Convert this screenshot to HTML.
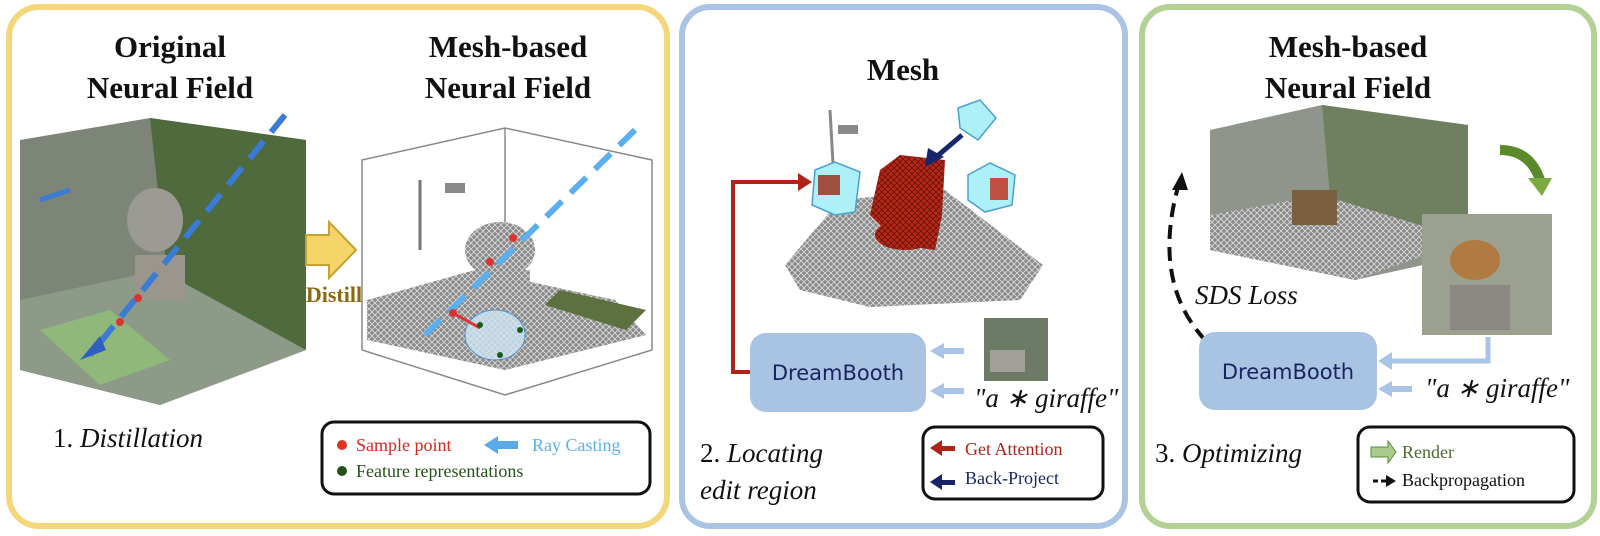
<!DOCTYPE html>
<html><head><meta charset="utf-8"><style>
html,body{margin:0;padding:0;background:#fff;}
svg{display:block}
.t{font-family:"Liberation Serif",serif;font-weight:bold;font-size:31px;fill:#111;text-anchor:middle}
.i{font-family:"Liberation Serif",serif;font-style:italic;font-size:27px;fill:#111}
.s{font-family:"Liberation Serif",serif;font-size:18px}
.d{font-family:"DejaVu Sans",sans-serif;font-size:21px;fill:#1a2560;text-anchor:middle}
</style></head><body>
<svg width="1600" height="536" viewBox="0 0 1600 536" xmlns="http://www.w3.org/2000/svg">
<defs>
<pattern id="mesh" width="6" height="6" patternUnits="userSpaceOnUse"><rect width="6" height="6" fill="#8a8a8a"/><path d="M0 0L6 6M6 0L0 6" stroke="#ddd" stroke-width="0.8"/></pattern>
<pattern id="rmesh" width="6" height="6" patternUnits="userSpaceOnUse"><rect width="6" height="6" fill="#b52818"/><path d="M0 0L6 6M6 0L0 6" stroke="#6a1208" stroke-width="0.8"/></pattern>
</defs>
<!-- panels -->
<rect x="9" y="7" width="658" height="519" rx="30" fill="none" stroke="#f5d77b" stroke-width="6"/>
<rect x="682" y="7" width="443" height="519" rx="28" fill="none" stroke="#a9c4e4" stroke-width="6"/>
<rect x="1142" y="7" width="452" height="519" rx="28" fill="none" stroke="#b3d195" stroke-width="6"/>

<!-- panel 1 -->
<text class="t" x="170" y="57">Original</text>
<text class="t" x="170" y="98">Neural Field</text>
<text class="t" x="508" y="57">Mesh-based</text>
<text class="t" x="508" y="98">Neural Field</text>
<polygon points="20,140 150,118 306,140 306,350 160,405 20,370" fill="#7d8578"/>
<polygon points="150,118 306,140 306,350 170,300" fill="#4f6a3c"/>
<polygon points="20,300 160,270 306,350 160,405 20,370" fill="#8d9a88"/>
<polygon points="40,330 110,310 170,360 100,385" fill="#8fb87a"/>
<rect x="135" y="255" width="50" height="45" fill="#9a968e"/>
<ellipse cx="155" cy="220" rx="28" ry="32" fill="#9b9a94"/>
<line x1="285" y1="115" x2="90" y2="355" stroke="#3a7bd5" stroke-width="6" stroke-dasharray="22,12"/>
<polygon points="80,360 100,336 106,350" fill="#2f5fc0"/>
<line x1="40" y1="200" x2="70" y2="190" stroke="#3a7bd5" stroke-width="5"/>
<circle cx="120" cy="322" r="4" fill="#d33"/><circle cx="138" cy="298" r="4" fill="#d33"/>
<polygon points="306,235 329,235 329,222 356,250 329,278 329,265 306,265" fill="#f5d567" stroke="#c8a230" stroke-width="2"/>
<text x="334" y="302" font-family="Liberation Serif,serif" font-weight="bold" font-size="22" fill="#8a6a10" text-anchor="middle">Distill</text>
<g stroke="#888" stroke-width="1.5" fill="none">
<polygon points="362,160 505,128 652,160 652,350 505,395 362,350"/>
<line x1="505" y1="128" x2="505" y2="340"/>
</g>
<polygon points="367,300 475,270 615,300 646,335 505,370 367,340" fill="url(#mesh)"/>
<polygon points="560,290 646,310 626,330 545,305" fill="#5c7040"/>
<ellipse cx="500" cy="250" rx="35" ry="28" fill="url(#mesh)"/>
<rect x="475" y="270" width="55" height="40" fill="url(#mesh)"/>
<line x1="420" y1="180" x2="420" y2="250" stroke="#777" stroke-width="3"/>
<rect x="445" y="183" width="20" height="10" fill="#888"/>
<ellipse cx="495" cy="335" rx="30" ry="25" fill="#cfe6f5" opacity="0.8" stroke="#3a8ad5"/>
<line x1="635" y1="130" x2="425" y2="335" stroke="#5ab0ee" stroke-width="6" stroke-dasharray="22,12"/>
<line x1="453" y1="313" x2="480" y2="328" stroke="#d33" stroke-width="3"/>
<circle cx="513" cy="238" r="4" fill="#d33"/><circle cx="490" cy="262" r="4" fill="#d33"/><circle cx="453" cy="313" r="4" fill="#d33"/>
<circle cx="520" cy="330" r="3" fill="#1c5a1c"/><circle cx="500" cy="355" r="3" fill="#1c5a1c"/><circle cx="480" cy="325" r="3" fill="#1c5a1c"/>
<text class="i" x="53" y="447"><tspan font-style="normal">1.</tspan> Distillation</text>
<rect x="322" y="422" width="328" height="72" rx="12" fill="#fff" stroke="#111" stroke-width="3"/>
<circle cx="342" cy="445" r="5" fill="#e0321e"/>
<text class="s" x="356" y="451" fill="#d8261a">Sample point</text>
<polygon points="484,445 498,436 498,441 518,441 518,449 498,449 498,454" fill="#5aaaea"/>
<text class="s" x="532" y="451" fill="#5ab0ee">Ray Casting</text>
<circle cx="342" cy="471" r="5" fill="#245218"/>
<text class="s" x="356" y="477" fill="#245218">Feature representations</text>

<!-- panel 2 -->
<text class="t" x="903" y="80">Mesh</text>
<polygon points="785,265 840,200 945,190 1043,265 1020,300 870,307 800,290" fill="url(#mesh)"/>
<polygon points="880,170 900,155 945,160 942,215 935,250 900,245 885,230 870,215" fill="url(#rmesh)"/>
<ellipse cx="905" cy="235" rx="30" ry="15" fill="url(#rmesh)"/>
<line x1="830" y1="110" x2="835" y2="200" stroke="#888" stroke-width="3"/>
<rect x="838" y="125" width="20" height="9" fill="#888"/>
<polygon points="815,170 835,162 860,172 855,212 835,215 812,205" fill="#aef0f8" stroke="#4aa0d0" stroke-width="1.5"/>
<rect x="818" y="175" width="22" height="20" fill="#a05040"/>
<polygon points="968,175 990,163 1015,175 1012,205 985,212 968,200" fill="#aef0f8" stroke="#4aa0d0" stroke-width="1.5"/>
<rect x="990" y="178" width="18" height="22" fill="#c05040"/>
<polygon points="958,108 980,100 996,118 978,140 960,128" fill="#aef0f8" stroke="#4aa0d0" stroke-width="1.5"/>
<line x1="962" y1="135" x2="935" y2="158" stroke="#17266a" stroke-width="5"/>
<polygon points="925,167 928,148 944,157" fill="#17266a"/>
<polyline points="750,372 733,372 733,182 800,182" fill="none" stroke="#b02418" stroke-width="4"/>
<polygon points="812,182 798,173 798,191" fill="#b02418"/>
<rect x="750" y="333" width="176" height="79" rx="16" fill="#a9c3e3"/>
<text class="d" x="838" y="380">DreamBooth</text>
<rect x="984" y="318" width="64" height="63" fill="#6d7a66"/>
<rect x="990" y="350" width="35" height="22" fill="#a0a098"/>
<g fill="#a9c4e4"><rect x="942" y="348" width="22" height="6"/><polygon points="930,351 944,343 944,359"/><rect x="942" y="388" width="22" height="6"/><polygon points="930,391 944,383 944,399"/></g>
<text class="i" x="974" y="407" font-size="22">"a ∗ giraffe"</text>
<text class="i" x="700" y="462"><tspan font-style="normal">2.</tspan> Locating</text>
<text class="i" x="700" y="499">edit region</text>
<rect x="923" y="427" width="180" height="72" rx="12" fill="#fff" stroke="#111" stroke-width="3"/>
<rect x="935" y="446" width="20" height="5" fill="#b02418"/><polygon points="930,448 942,440 942,456" fill="#b02418"/>
<text class="s" x="965" y="455" fill="#b02418">Get Attention</text>
<rect x="935" y="480" width="20" height="5" fill="#17266a"/><polygon points="930,482 942,474 942,490" fill="#17266a"/>
<text class="s" x="965" y="484" fill="#17266a">Back-Project</text>

<!-- panel 3 -->
<text class="t" x="1348" y="57">Mesh-based</text>
<text class="t" x="1348" y="98">Neural Field</text>
<polygon points="1210,130 1322,105 1468,125 1468,255 1355,280 1210,250" fill="#8f958a"/>
<polygon points="1322,105 1468,125 1468,255 1332,220" fill="#6f8060"/>
<polygon points="1210,215 1322,195 1468,240 1355,280 1210,250" fill="url(#mesh)"/>
<rect x="1292" y="190" width="45" height="35" fill="#7a6040"/>
<path d="M1500 150 Q1530 150 1540 180" fill="none" stroke="#5a8a2a" stroke-width="10"/>
<polygon points="1528,178 1552,178 1542,196" fill="#7aaa40"/>
<rect x="1422" y="214" width="130" height="121" fill="#9ba08f"/>
<rect x="1450" y="285" width="60" height="45" fill="#8a8880"/>
<ellipse cx="1475" cy="260" rx="25" ry="20" fill="#b07a40"/>
<path d="M1205 340 Q1150 280 1180 180" fill="none" stroke="#111" stroke-width="4" stroke-dasharray="14,8"/>
<polygon points="1182,172 1172,190 1188,190" fill="#111"/>
<text class="i" x="1195" y="304" font-size="24">SDS Loss</text>
<rect x="1199" y="332" width="178" height="78" rx="16" fill="#a9c3e3"/>
<text class="d" x="1288" y="379">DreamBooth</text>
<g fill="#a9c4e4">
<polyline points="1488,337 1488,361 1390,361" fill="none" stroke="#a9c4e4" stroke-width="5"/>
<polygon points="1378,361 1392,352 1392,370"/>
<rect x="1390" y="386" width="22" height="6"/><polygon points="1378,389 1392,381 1392,397"/>
</g>
<text class="i" x="1425" y="397" font-size="22">"a ∗ giraffe"</text>
<text class="i" x="1155" y="462"><tspan font-style="normal">3.</tspan> Optimizing</text>
<rect x="1358" y="427" width="216" height="75" rx="12" fill="#fff" stroke="#111" stroke-width="3"/>
<polygon points="1371,447 1388,447 1388,441 1396,452 1388,463 1388,457 1371,457" fill="#a9cc8c" stroke="#5a8a3a"/>
<text class="s" x="1402" y="458" fill="#4a6a30">Render</text>
<line x1="1373" y1="481" x2="1388" y2="481" stroke="#111" stroke-width="3" stroke-dasharray="5,3"/>
<polygon points="1396,481 1386,475 1386,487" fill="#111"/>
<text class="s" x="1402" y="486" fill="#111">Backpropagation</text>
</svg>
</body></html>
